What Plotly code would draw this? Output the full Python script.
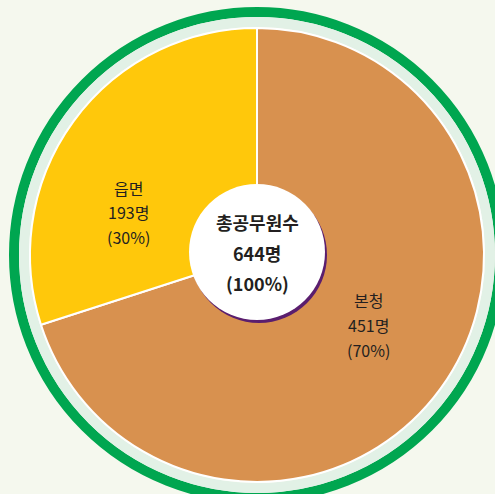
import plotly.graph_objects as go

# data
labels = ['본청', '읍면']
values = [451, 193]
percents = ['70%', '30%']
total_label = '총공무원수'
total_value = 644
colors = ['#D8914F', '#FFC80B']

W, H = 495, 494
cx, cy = 257, 255   # pixel center of the pie
R = 227             # pie radius in px


def px_x(x):
    return x / W


def px_y(y):
    return 1 - y / H


fig = go.Figure(go.Pie(
    labels=labels, values=values,
    sort=False, direction='clockwise', rotation=0,
    marker=dict(colors=colors, line=dict(color='white', width=2)),
    textinfo='none', hoverinfo='label+value+percent', showlegend=False,
    domain=dict(x=[px_x(cx - R), px_x(cx + R)], y=[px_y(cy + R), px_y(cy - R)]),
))


def circle(r, dx=0, dy=0, **kw):
    return dict(type='circle', xref='paper', yref='paper',
                x0=px_x(cx - r + dx), x1=px_x(cx + r + dx),
                y0=px_y(cy + r + dy), y1=px_y(cy - r + dy), **kw)


shapes = [
    circle(243, line=dict(color='#00A650', width=10), fillcolor='rgba(0,0,0,0)', layer='below'),
    circle(233, line=dict(color='#E2F1E6', width=10), fillcolor='rgba(0,0,0,0)', layer='below'),
    # center disc with purple shadow
    circle(68, dx=2, dy=0, line=dict(width=0), fillcolor='#5A1E6E', layer='above'),
    circle(68, dx=0, dy=-3, line=dict(width=0), fillcolor='white', layer='above'),
]

font = dict(family='Noto Sans CJK KR', color='#231F20')


def note(x, y, text, size):
    return dict(x=px_x(x), y=px_y(y), xref='paper', yref='paper', text=text,
                xanchor='center', yanchor='middle',
                showarrow=False, font=dict(size=size, **font))


annotations = [
    note(128, 188, labels[1], 16),
    note(128, 212, f'{values[1]}명', 16),
    note(128, 237, f'({percents[1]})', 16),
    note(368, 300, labels[0], 16),
    note(368, 325, f'{values[0]}명', 16),
    note(368, 350, f'({percents[0]})', 16),
    note(257, 222, f'<b>{total_label}</b>', 18),
    note(257, 253, f'<b>{total_value}명</b>', 18),
    note(257, 283, '<b>(100%)</b>', 18),
]

fig.update_layout(
    width=W, height=H,
    margin=dict(l=0, r=0, t=0, b=0),
    paper_bgcolor='#F5F8EE', plot_bgcolor='#F5F8EE',
    shapes=shapes, annotations=annotations,
)

fig.write_html('out.html', config={'displayModeBar': False},
               post_script="document.body.style.margin='0';"
               "document.body.style.overflow='hidden';")
